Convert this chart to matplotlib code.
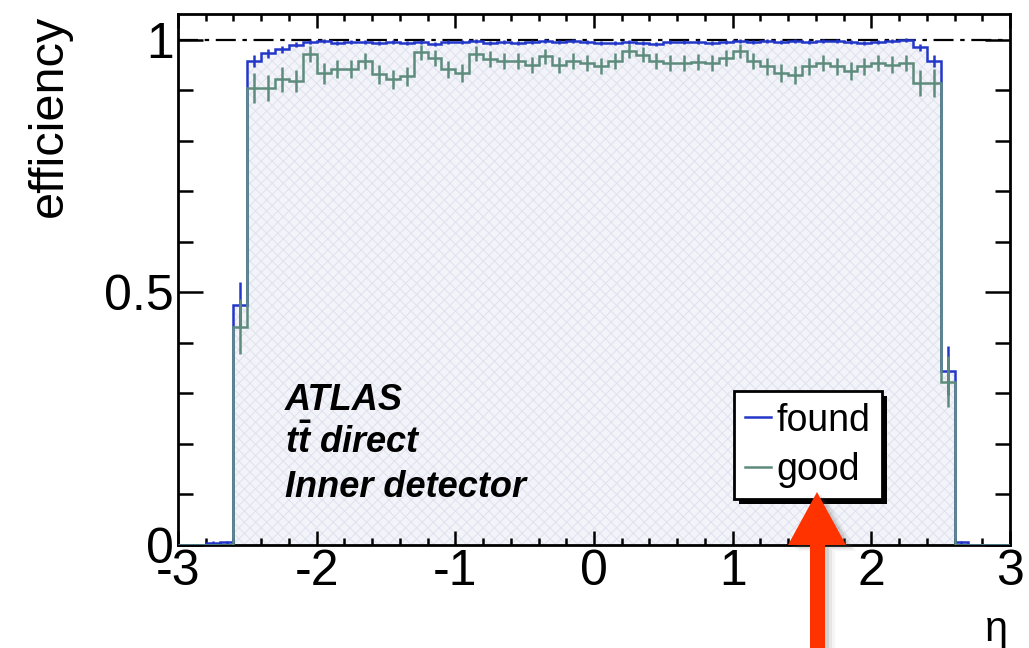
import numpy as np
import matplotlib
matplotlib.use('Agg')
import matplotlib.pyplot as plt
from matplotlib.lines import Line2D
from matplotlib.patches import Polygon, Rectangle
from matplotlib.transforms import IdentityTransform
from matplotlib.ticker import MultipleLocator, FixedLocator, FormatStrFormatter

plt.rcParams['font.family'] = ['Liberation Sans', 'DejaVu Sans']
plt.rcParams['mathtext.fontset'] = 'custom'
plt.rcParams['mathtext.it'] = 'Liberation Sans:italic:bold'
plt.rcParams['mathtext.rm'] = 'Liberation Sans:bold'
plt.rcParams['axes.unicode_minus'] = False
plt.rcParams['hatch.linewidth'] = 0.7

# eta bins, width 0.1 from -3 to 3
eta_edges = np.linspace(-3, 3, 61)

# efficiency for "found" tracks, one value per bin
found = [0, 0, 0.004, 0.005, 0.475,
         0.957, 0.973, 0.981, 0.990, 0.995, 0.997, 0.994, 0.996, 0.995, 0.993,
         0.996, 0.994, 0.995, 0.992, 0.996, 0.995, 0.997, 0.994, 0.996, 0.993,
         0.995, 0.998, 0.996, 0.997, 0.995, 0.993, 0.994, 0.995, 0.993, 0.992,
         0.996, 0.995, 0.996, 0.994, 0.996, 0.998, 0.996, 0.997, 0.995, 0.998,
         0.996, 0.997, 0.998, 0.995, 0.994, 0.996, 0.997, 0.999, 0.985, 0.958,
         0.345, 0.005, 0, 0, 0]
found_err = [0, 0, 0.003, 0.003, 0.045,
             0.012, 0.009, 0.007, 0.005, 0.004, 0.004, 0.004, 0.004, 0.004, 0.004,
             0.004, 0.004, 0.004, 0.004, 0.004, 0.004, 0.004, 0.004, 0.004, 0.004,
             0.004, 0.004, 0.004, 0.004, 0.004, 0.004, 0.004, 0.004, 0.004, 0.004,
             0.004, 0.004, 0.004, 0.004, 0.004, 0.004, 0.004, 0.004, 0.004, 0.004,
             0.004, 0.004, 0.004, 0.004, 0.004, 0.004, 0.004, 0.004, 0.007, 0.012,
             0.048, 0.003, 0, 0, 0]

# efficiency for "good" tracks
good = [0, 0, 0, 0, 0.432,
        0.904, 0.904, 0.921, 0.918, 0.972, 0.933, 0.941, 0.941, 0.957, 0.931,
        0.921, 0.927, 0.975, 0.964, 0.941, 0.934, 0.972, 0.962, 0.957, 0.957,
        0.950, 0.967, 0.950, 0.957, 0.954, 0.947, 0.957, 0.977, 0.970, 0.957,
        0.954, 0.954, 0.956, 0.954, 0.963, 0.977, 0.957, 0.947, 0.934, 0.930,
        0.947, 0.954, 0.947, 0.937, 0.947, 0.954, 0.950, 0.954, 0.914, 0.914,
        0.323, 0, 0, 0, 0]
good_err = [0, 0, 0, 0, 0.055,
            0.030, 0.026, 0.024, 0.022, 0.016, 0.020, 0.018, 0.018, 0.016, 0.018,
            0.018, 0.018, 0.015, 0.016, 0.017, 0.018, 0.015, 0.016, 0.016, 0.016,
            0.016, 0.015, 0.016, 0.016, 0.016, 0.016, 0.016, 0.014, 0.015, 0.016,
            0.016, 0.016, 0.016, 0.016, 0.016, 0.014, 0.016, 0.017, 0.018, 0.018,
            0.017, 0.016, 0.017, 0.018, 0.017, 0.016, 0.017, 0.016, 0.026, 0.027,
            0.050, 0, 0, 0, 0]

blue = '#2236c8'
green = '#5d8b7c'

centers = 0.5 * (eta_edges[:-1] + eta_edges[1:])

fig = plt.figure(figsize=(10.29, 6.48), dpi=100)
ax = fig.add_axes([0.173, 0.159, 0.8085, 0.819])

ax.stairs(found, eta_edges, fill=True, facecolor='#f3f4f9', edgecolor='#dfe2ee',
          hatch='xxx', lw=0, zorder=1)
ax.axhline(1, color='black', lw=1.6, ls=(0, (9, 3, 2, 3)), zorder=2)

ax.stairs(found, eta_edges, color=blue, lw=1.8, zorder=3)
ax.errorbar(centers, found, yerr=found_err, fmt='none', ecolor=blue,
            elinewidth=1.8, capsize=0, zorder=3)
ax.stairs(good, eta_edges, color=green, lw=1.8, zorder=4)
ax.errorbar(centers, good, yerr=good_err, fmt='none', ecolor=green,
            elinewidth=1.8, capsize=0, zorder=4)

ax.set_xlim(-3, 3)
ax.set_ylim(0, 1.05)
ax.xaxis.set_major_locator(MultipleLocator(1))
ax.xaxis.set_minor_locator(MultipleLocator(0.2))
ax.yaxis.set_major_locator(FixedLocator([0, 0.5, 1]))
ax.yaxis.set_minor_locator(MultipleLocator(0.1))
ax.yaxis.set_major_formatter(FormatStrFormatter('%g'))
ax.xaxis.set_major_formatter(FormatStrFormatter('%g'))

ax.tick_params(which='both', direction='in', top=True, right=True, width=1.8)
ax.tick_params(axis='y', which='major', length=18, labelsize=36, pad=3)
ax.tick_params(axis='y', which='minor', length=11)
ax.tick_params(axis='x', which='major', length=10, labelsize=36, pad=3)
ax.tick_params(axis='x', which='minor', length=5)
for sp in ax.spines.values():
    sp.set_linewidth(2)

ax.set_ylabel('efficiency', fontsize=35, loc='top')
ax.yaxis.set_label_coords(-0.127, 1.0)
ax.set_xlabel('η', fontsize=30, loc='right')
ax.xaxis.set_label_coords(0.998, -0.122)

# labels
fig.text(0.277, 0.367, 'ATLAS', fontsize=26, fontweight='bold', fontstyle='italic')
fig.text(0.277, 0.301, r'$t\bar{t}$ direct', fontsize=26, fontweight='bold', fontstyle='italic')
fig.text(0.277, 0.233, 'Inner detector', fontsize=26, fontweight='bold', fontstyle='italic')

handles = [Line2D([], [], color=blue, lw=1.8), Line2D([], [], color=green, lw=1.8)]
leg = ax.legend(handles, ['found', 'good'], loc='center', bbox_to_anchor=(0.785, 0.313),
                bbox_transform=fig.transFigure, fontsize=27, fancybox=False,
                edgecolor='black', framealpha=1, shadow=False,
                handlelength=0.7, handletextpad=0.15, borderpad=0.3,
                labelspacing=0.35, borderaxespad=0)
leg.get_frame().set_linewidth(2)
leg.set_zorder(6)

# drop shadow of the legend box, offset a few pixels right/down, drawn under the legend
fig.canvas.draw()
bb = leg.get_window_extent()
shadow = Rectangle((bb.x0 + 5, bb.y0 - 5), bb.width, bb.height, transform=IdentityTransform(),
                   facecolor='black', edgecolor='none', zorder=5, clip_on=False)
ax.add_patch(shadow)

# red arrow pointing at the legend
W, H = 1029, 648
def px(pts, dx=0, dy=0):
    return [((x + dx) / W, 1 - (y + dy) / H) for x, y in pts]

arrow = [(817, 492), (846, 545), (825, 545), (825, 650), (810, 650), (810, 545), (788, 545)]
for k, a in [(10, 0.06), (7, 0.09), (4, 0.14)]:
    fig.add_artist(Polygon(px(arrow, k, k * 0.6), closed=True, transform=fig.transFigure,
                           facecolor='#555555', edgecolor='none', alpha=a))
fig.add_artist(Polygon(px(arrow), closed=True, transform=fig.transFigure,
                       facecolor='#ff3300', edgecolor='none'))

fig.savefig('out.png', dpi=100)
